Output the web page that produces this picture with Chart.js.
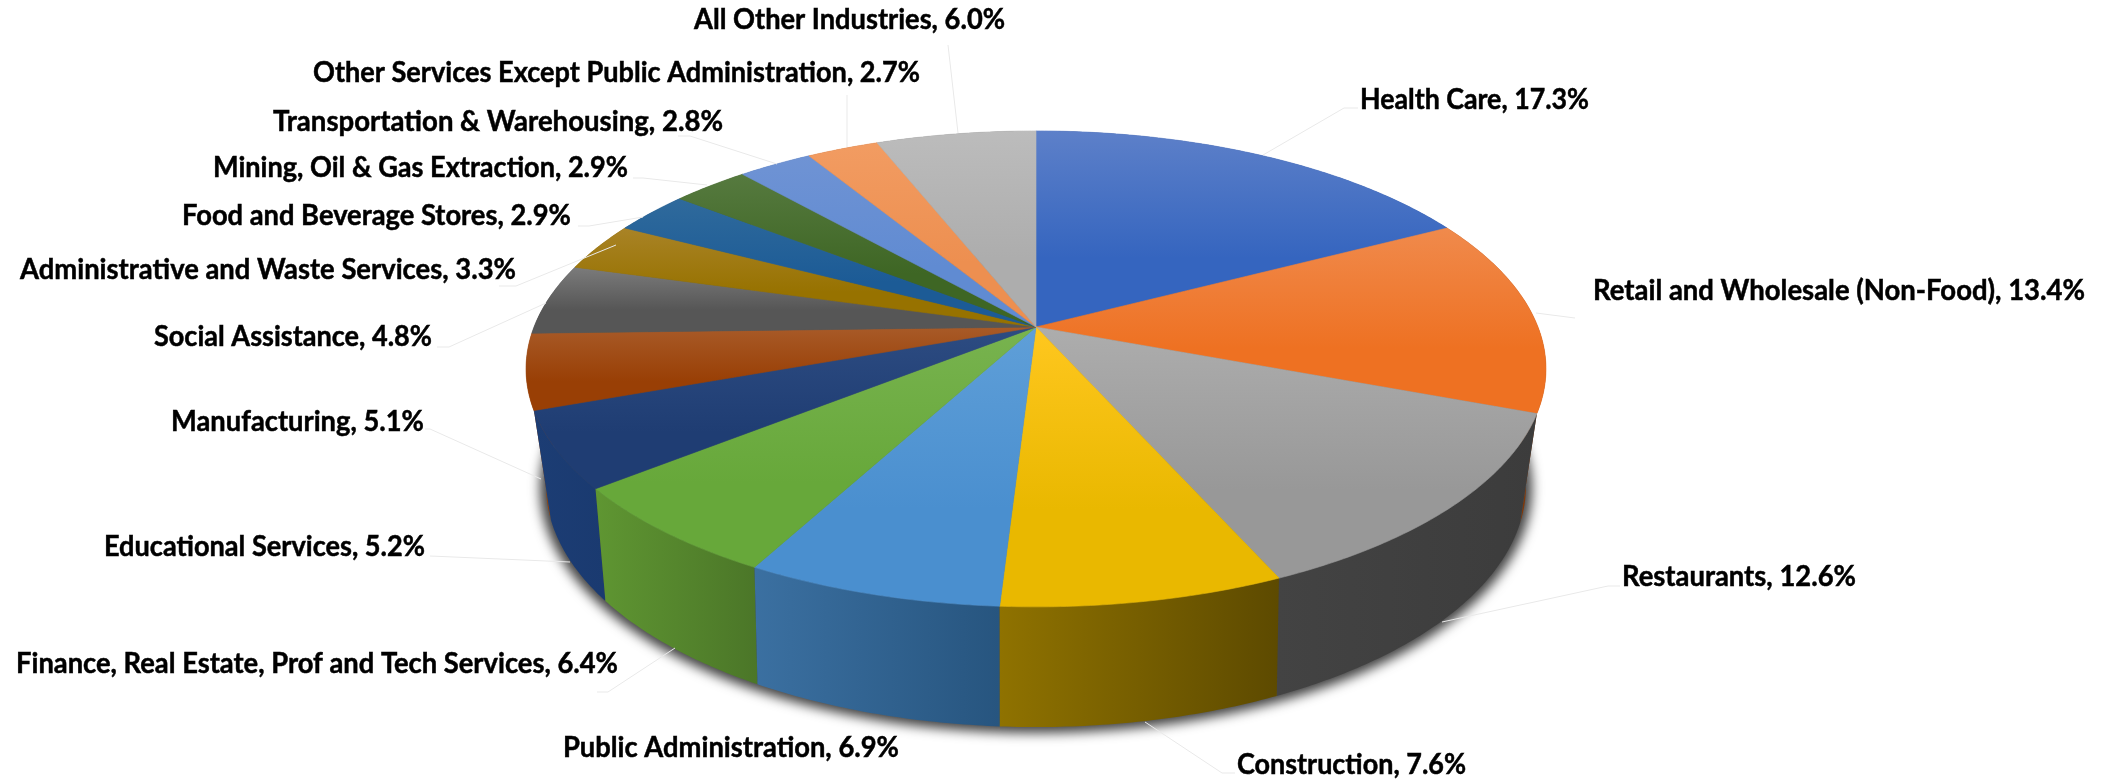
<!DOCTYPE html>
<html>
<head>
<meta charset="utf-8">
<title>Industry shares</title>
<script src="https://cdn.jsdelivr.net/npm/chart.js@4"></script>
<style>
  html, body { margin: 0; padding: 0; background: #fff; }
  canvas { display: block; }
</style>
</head>
<body>
<canvas id="pieChart" width="2113" height="780"></canvas>
<script>
'use strict';

const categories = ['Health Care', 'Retail and Wholesale (Non-Food)', 'Restaurants', 'Construction',
    'Public Administration', 'Finance, Real Estate, Prof and Tech Services', 'Educational Services',
    'Manufacturing', 'Social Assistance', 'Administrative and Waste Services', 'Food and Beverage Stores',
    'Mining, Oil & Gas Extraction', 'Transportation & Warehousing',
    'Other Services Except Public Administration', 'All Other Industries'];
const shares = [17.3, 13.4, 12.6, 7.6, 6.9, 6.4, 5.2, 5.1, 4.8, 3.3, 2.9, 2.9, 2.8, 2.7, 6.0];

// top face: lighter at the far edge, darker at the near edge
const faceFar  = ['#5d80c9', '#f08a4c', '#adadad', '#ffc71f', '#5f9fd8', '#78b34f', '#2d4c82', '#a85a28',
                  '#7b7b7b', '#a98326', '#2f6a9c', '#567a3f', '#6f93d4', '#f29c62', '#bcbcbc'];
const faceNear = ['#3565bf', '#ee7122', '#989898', '#e9b800', '#4a8fcf', '#67a83a', '#1f3d73', '#993f05',
                  '#565656', '#977200', '#1c5b96', '#3e6624', '#608bd2', '#ed8f50', '#adadad'];
// side wall, left to right
const wallLeft  = ['#2b4a86', '#8a3f0f', '#434343', '#8f7200', '#3b70a1', '#5f9632', '#1c3d74', '#8f420c',
                   '#444444', '#6f5500', '#1a4169', '#2f4a1e', '#3f5f96', '#9c5020', '#6e6e6e'];
const wallRight = ['#2b4a86', '#7c3609', '#3c3c3c', '#5d4a00', '#27557f', '#4b7628', '#1a3a70', '#8f420c',
                   '#444444', '#6f5500', '#1a4169', '#2f4a1e', '#3f5f96', '#9c5020', '#6e6e6e'];

const labelLeft   = [1360, 1593, 1622, 1237, 563, 16, 104, 171, 154, 20, 182, 213, 273, 313, 694];
const labelRight  = [1589, 2085, 1856, 1466, 899, 618, 425, 424, 432, 516, 571, 628, 723, 920, 1005];
const labelMiddle = [100, 291, 577, 765, 748, 664, 547, 422, 337, 270, 216, 168, 122, 73, 20];
const leaderLines = [
    [[1263, 155], [1344, 108], [1358, 108]],
    [[1536, 313], [1575, 318]],
    [[1442, 622], [1608, 586], [1620, 586]],
    [[1145, 722], [1222, 773], [1235, 773]],
    [],
    [[675, 648], [608, 692], [597, 692]],
    [[570, 562], [430, 556]],
    [[541, 479], [430, 429], [425, 429]],
    [[546, 303], [449, 347], [437, 347]],
    [[616, 245], [516, 286], [499, 286]],
    [[643, 217], [589, 226], [578, 226]],
    [[707, 185], [643, 178], [633, 178]],
    [[777, 164], [690, 136], [678, 136]],
    [[847, 147], [847, 95]],
    [[958, 133], [948, 45]]
];

// perspective of the top disc and of the bottom disc
const topDisc    = { cx: 1036, cy: 327, a: 502, b: 230.6, k: 0.176 };
const bottomDisc = { cx: 1036, cy: 435.4, a: 479, b: 230.4, k: 0.21 };

function project(disc, angle) {
    const u = Math.cos(angle), v = Math.sin(angle), w = 1 - disc.k * v;
    return [disc.cx + disc.a * u / w, disc.cy + disc.b * v / w];
}

function arcPoints(disc, start, end) {
    const pts = [], steps = Math.max(2, Math.ceil((end - start) / 0.01));
    for (let i = 0; i <= steps; i++) pts.push(project(disc, start + (end - start) * i / steps));
    return pts;
}

function tracePoints(ctx, pts) {
    ctx.beginPath();
    pts.forEach((p, i) => i ? ctx.lineTo(p[0], p[1]) : ctx.moveTo(p[0], p[1]));
    ctx.closePath();
}

function drawShadow(ctx) {
    // only the blur lands on the page, the ellipse itself stays off canvas
    ctx.save();
    ctx.shadowColor = 'rgba(0,0,0,0.75)';
    ctx.shadowBlur = 12;
    ctx.shadowOffsetX = 5000;
    ctx.shadowOffsetY = 2;
    ctx.fillStyle = '#000';
    ctx.beginPath();
    ctx.ellipse(1036 - 5000, 486, 496, 245, 0, 0, Math.PI * 2);
    ctx.fill();
    ctx.restore();
}

function drawWalls(ctx, arcs) {
    const order = arcs.map((arc, i) => i)
        .sort((p, q) => Math.sin((arcs[p].startAngle + arcs[p].endAngle) / 2) - Math.sin((arcs[q].startAngle + arcs[q].endAngle) / 2));
    order.forEach(i => {
        const upper = arcPoints(topDisc, arcs[i].startAngle, arcs[i].endAngle);
        const lower = arcPoints(bottomDisc, arcs[i].startAngle, arcs[i].endAngle);
        const xs = upper.concat(lower).map(p => p[0]);
        const grad = ctx.createLinearGradient(Math.min(...xs), 0, Math.max(...xs), 0);
        grad.addColorStop(0, wallLeft[i]);
        grad.addColorStop(1, wallRight[i]);
        tracePoints(ctx, upper.concat(lower.reverse()));
        ctx.fillStyle = grad;
        ctx.fill();
    });
}

function drawFaces(ctx, arcs) {
    arcs.forEach((arc, i) => {
        const pts = arcPoints(topDisc, arc.startAngle, arc.endAngle);
        pts.push([topDisc.cx, topDisc.cy]);
        const ys = pts.map(p => p[1]);
        const grad = ctx.createLinearGradient(0, Math.min(...ys), 0, Math.max(...ys));
        grad.addColorStop(0, faceFar[i]);
        grad.addColorStop(0.65, faceNear[i]);
        grad.addColorStop(1, faceNear[i]);
        tracePoints(ctx, pts);
        ctx.fillStyle = grad;
        ctx.strokeStyle = grad;
        ctx.lineWidth = 0.6;
        ctx.fill();
        ctx.stroke();
    });
}

function drawLabels(ctx) {
    ctx.save();
    ctx.strokeStyle = '#e9e9e9';
    ctx.lineWidth = 1;
    leaderLines.forEach(line => {
        if (!line.length) return;
        ctx.beginPath();
        line.forEach((p, i) => i ? ctx.lineTo(p[0], p[1]) : ctx.moveTo(p[0], p[1]));
        ctx.stroke();
    });
    ctx.fillStyle = '#000';
    ctx.strokeStyle = '#000';
    ctx.lineWidth = 0.5;
    ctx.font = 'bold 29px Lato';
    ctx.textAlign = 'left';
    ctx.textBaseline = 'middle';
    categories.forEach((name, i) => {
        const text = `${name}, ${shares[i].toFixed(1)}%`;
        const width = labelRight[i] - labelLeft[i];
        ctx.fillText(text, labelLeft[i], labelMiddle[i], width);
        ctx.strokeText(text, labelLeft[i], labelMiddle[i], width);
    });
    ctx.restore();
}

const pie3d = {
    id: 'pie3d',
    beforeDatasetsDraw(chart) {
        const ctx = chart.ctx;
        const arcs = chart.getDatasetMeta(0).data;
        drawShadow(ctx);
        drawWalls(ctx, arcs);
        drawFaces(ctx, arcs);
        drawLabels(ctx);
        return false;
    }
};

new Chart(document.getElementById('pieChart'), {
    type: 'pie',
    data: {
        labels: categories,
        datasets: [{ data: shares, backgroundColor: faceNear, borderWidth: 0 }]
    },
    options: {
        responsive: false,
        animation: false,
        plugins: { legend: { display: false }, tooltip: { enabled: false } }
    },
    plugins: [pie3d]
});
</script>
</body>
</html>
